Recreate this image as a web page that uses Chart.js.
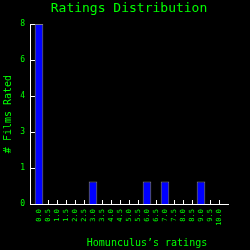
<!DOCTYPE html>
<html>
<head>
<meta charset="utf-8">
<script src="https://cdn.jsdelivr.net/npm/chart.js@4"></script>
<style>
  html, body { margin: 0; padding: 0; background: #000; }
</style>
</head>
<body>
<canvas id="grafica" width="250" height="250"></canvas>
<script>
// datos de la grafica
const ratings = ['0.0','0.5','1.0','1.5','2.0','2.5','3.0','3.5','4.0','4.5','5.0','5.5','6.0','6.5','7.0','7.5','8.0','8.5','9.0','9.5','10.0']
const counts  = [8,0,0,0,0,0,1,0,0,0,0,0,1,0,1,0,0,0,1,0,0]
const yTicks  = [0,1.6,3.2,4.8,6.4,8]

const verde = '#00ff00'
const mono = 'DejaVu Sans Mono'

// marcas de los ejes hacia adentro + titulo del eje x
const marcas = {
  id: 'marcas',
  beforeDatasetsDraw(chart) {
    const ctx = chart.ctx
    const x = chart.scales.x, y = chart.scales.y
    const a = chart.chartArea
    ctx.save()
    ctx.strokeStyle = '#ffffff'
    ctx.lineWidth = 1
    ctx.beginPath()
    y.ticks.forEach(t => {
      const py = Math.round(y.getPixelForValue(t.value)) + 0.5
      ctx.moveTo(a.left, py)
      ctx.lineTo(a.left + 5, py)
    })
    x.ticks.forEach(t => {
      const px = Math.round(x.getPixelForValue(t.value)) + 0.5
      ctx.moveTo(px, a.bottom)
      ctx.lineTo(px, a.bottom - 4)
    })
    ctx.stroke()
    ctx.restore()
  },
  afterDraw(chart) {
    const ctx = chart.ctx
    ctx.save()
    ctx.fillStyle = verde
    ctx.font = '10px "' + mono + '"'
    ctx.textAlign = 'center'
    ctx.textBaseline = 'middle'
    ctx.fillText('Homunculus\u2019s ratings', 147, 243)
    ctx.restore()
  }
}

var graficaratings = new Chart(document.getElementById('grafica'), {
  type: 'bar',
  data: {
    datasets: [{
      label: 'Ratings',
      data: ratings.map((r, i) => ({ x: parseFloat(r), y: counts[i] })),
      backgroundColor: '#0000ff',
      borderColor: '#808080',
      borderWidth: 1,
      categoryPercentage: 1,
      barPercentage: 0.95,
    }]
  },
  options: {
    responsive: false,
    animation: false,
    layout: { padding: { left: 0, right: 22, top: 0, bottom: 0 } },
    plugins: {
      legend: { display: false },
      tooltip: { enabled: false },
      title: {
        display: true,
        fullSize: false,
        text: 'Ratings Distribution',
        color: verde,
        font: { family: mono, size: 13, weight: 'normal' },
        padding: { top: 1, bottom: 7.4 },
      },
    },
    scales: {
      x: {
        type: 'linear',
        offset: false,
        min: -0.5,
        max: 10.5,
        grid: { display: false, drawTicks: false },
        border: { display: true, color: '#ffffff', width: 1 },
        afterBuildTicks: (scale) => {
          scale.ticks = ratings.map(r => ({ value: parseFloat(r) }))
        },
        afterFit: (scale) => { scale.height = 46 },
        ticks: {
          color: verde,
          font: { family: mono, size: 7 },
          autoSkip: false,
          minRotation: 90,
          maxRotation: 90,
          padding: 5,
          callback: (value) => value.toFixed(1),
        },
      },
      y: {
        min: 0,
        max: 8,
        grid: { display: false, drawTicks: false },
        border: { display: true, color: '#ffffff', width: 1 },
        afterBuildTicks: (scale) => {
          scale.ticks = yTicks.map(v => ({ value: v }))
        },
        afterFit: (scale) => { scale.width = 30 },
        ticks: {
          color: verde,
          font: { family: mono, size: 8 },
          padding: 5,
          callback: (value) => Math.floor(value),
        },
        title: {
          display: true,
          text: '# Films Rated',
          color: verde,
          font: { family: mono, size: 10 },
          padding: { top: 2, bottom: 0 },
        },
      },
    },
  },
  plugins: [marcas],
})
</script>
</body>
</html>
